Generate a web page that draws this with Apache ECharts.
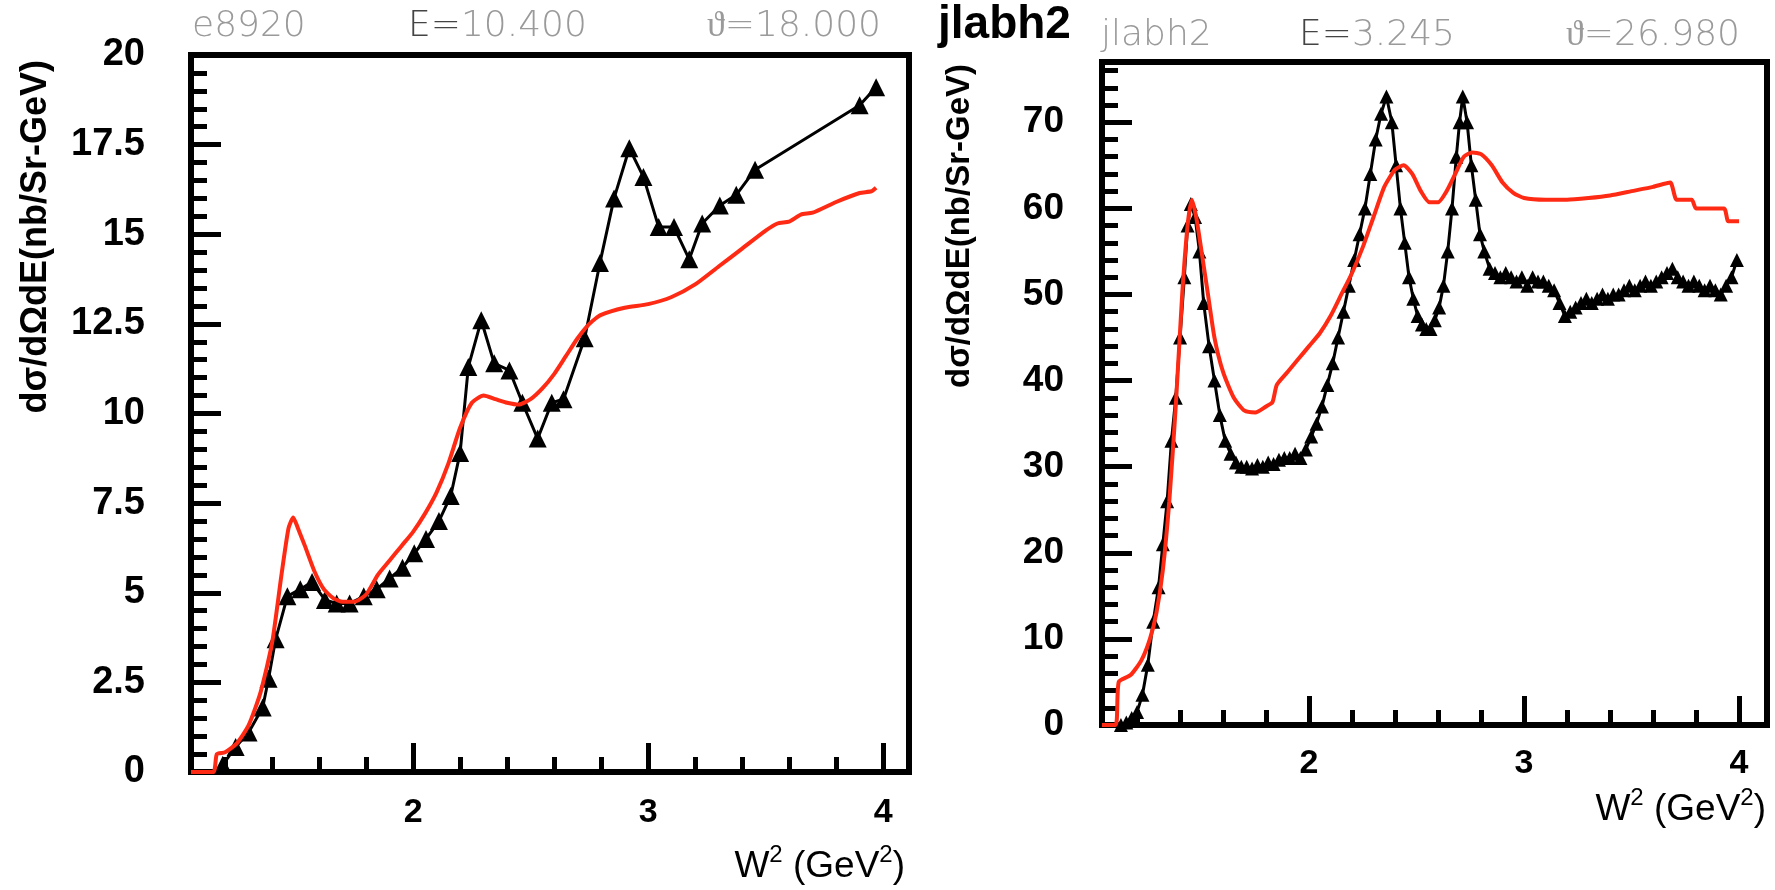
<!DOCTYPE html>
<html>
<head>
<meta charset="utf-8">
<script src="https://cdn.jsdelivr.net/npm/echarts@6/dist/echarts.min.js"></script>
<style>
  html, body { margin: 0; padding: 0; background: #fff; }
  #chart { width: 1775px; height: 890px; }
</style>
</head>
<body>
<div id="chart"></div>
<script>
// e8920, E=10.400, theta=18.000 : data (triangles) and model (red)
const e8920W2 = [1.19, 1.245, 1.30, 1.36, 1.385, 1.415, 1.465, 1.52, 1.57, 1.625, 1.675, 1.73, 1.79, 1.845,
  1.90, 1.955, 2.005, 2.055, 2.11, 2.16, 2.20, 2.235, 2.29, 2.345, 2.41, 2.465, 2.53, 2.59, 2.64, 2.73,
  2.795, 2.855, 2.92, 2.98, 3.045, 3.11, 3.175, 3.23, 3.305, 3.375, 3.455, 3.9, 3.97];
const e8920Xs = [0.2, 0.7, 1.1, 1.8, 2.6, 3.7, 4.9, 5.1, 5.3, 4.8, 4.7, 4.7, 4.9, 5.1,
  5.4, 5.7, 6.1, 6.5, 7.0, 7.7, 8.9, 11.3, 12.6, 11.4, 11.2, 10.3, 9.3, 10.3, 10.4, 12.1,
  14.2, 16.0, 17.4, 16.6, 15.2, 15.2, 14.3, 15.3, 15.8, 16.1, 16.8, 18.6, 19.1];
const e8920ModelW2 = [1.055, 1.15, 1.165, 1.2, 1.25, 1.3, 1.35, 1.4, 1.44, 1.47, 1.49, 1.51, 1.54, 1.58,
  1.62, 1.66, 1.70, 1.75, 1.80, 1.85, 1.90, 1.95, 2.0, 2.05, 2.10, 2.15, 2.20, 2.25, 2.30, 2.35, 2.40,
  2.45, 2.50, 2.55, 2.60, 2.65, 2.70, 2.75, 2.80, 2.90, 3.00, 3.10, 3.20, 3.30, 3.40, 3.50, 3.55, 3.60,
  3.65, 3.70, 3.80, 3.90, 3.95, 3.97];
const e8920Model = [0, 0, 0.5, 0.55, 0.8, 1.3, 2.2, 3.6, 5.5, 6.8, 7.1, 6.8, 6.3, 5.6,
  5.1, 4.85, 4.75, 4.75, 4.95, 5.5, 5.9, 6.3, 6.7, 7.2, 7.8, 8.6, 9.6, 10.3, 10.5, 10.4, 10.3,
  10.25, 10.4, 10.7, 11.1, 11.6, 12.1, 12.5, 12.75, 12.95, 13.05, 13.25, 13.6, 14.1, 14.6, 15.1, 15.3, 15.35,
  15.55, 15.6, 15.9, 16.15, 16.2, 16.3];

// jlabh2, E=3.245, theta=26.980
const jlabW2 = [1.125, 1.15, 1.175, 1.20, 1.225, 1.25, 1.275, 1.30, 1.32, 1.34, 1.36, 1.38, 1.40, 1.42,
  1.435, 1.45, 1.47, 1.49, 1.51, 1.535, 1.56, 1.585, 1.61, 1.635, 1.66, 1.685, 1.71, 1.735, 1.76, 1.785,
  1.81, 1.835, 1.86, 1.885, 1.91, 1.935, 1.96, 1.985, 2.01, 2.035, 2.06, 2.085, 2.11, 2.135, 2.16, 2.185,
  2.21, 2.235, 2.26, 2.285, 2.31, 2.335, 2.36, 2.385, 2.405, 2.425, 2.445, 2.465, 2.485, 2.505, 2.525, 2.545,
  2.565, 2.585, 2.605, 2.625, 2.645, 2.665, 2.685, 2.70, 2.715, 2.735, 2.755, 2.775, 2.795, 2.815, 2.84, 2.865,
  2.89, 2.915, 2.94, 2.965, 2.99, 3.015, 3.04, 3.065, 3.09, 3.115, 3.14, 3.165, 3.19, 3.215, 3.24, 3.265,
  3.29, 3.315, 3.34, 3.365, 3.39, 3.415, 3.44, 3.465, 3.49, 3.515, 3.54, 3.565, 3.59, 3.615, 3.64, 3.665,
  3.69, 3.715, 3.74, 3.765, 3.79, 3.815, 3.84, 3.865, 3.89, 3.915, 3.94, 3.965, 3.99];
const jlabXs = [0, 0.3, 0.8, 1.5, 3.5, 7, 12, 16, 21, 26, 33, 38, 45, 52,
  58, 60.5, 59, 55, 49, 44, 40, 36, 33, 31.5, 30.5, 30, 30, 29.8, 30.2, 30,
  30.5, 30.3, 30.8, 31, 31, 31.5, 31, 32, 33.5, 35, 37, 39.5, 42, 45, 48, 51,
  54, 57, 60, 64, 68, 71, 73, 70, 65, 60, 56, 52, 49.5, 47.5, 46.5, 46,
  46, 47, 48.5, 51, 55, 60, 66, 70, 73, 70, 65, 61, 57, 55, 53, 52.5,
  52, 52.5, 52, 51.5, 52, 51, 52, 51.5, 51.5, 51, 50.5, 49, 47.5, 48, 48.5, 49,
  49.5, 49, 49.5, 50, 49.5, 50, 50, 50.5, 51, 50.5, 51, 51.5, 51, 51.5, 52, 52.5,
  53, 52, 51.5, 51, 51.5, 51, 50.5, 51, 50.5, 50, 51, 52, 54];
const jlabModelW2 = [1.037, 1.10, 1.115, 1.17, 1.22, 1.26, 1.29, 1.32, 1.35, 1.38, 1.41, 1.435, 1.455, 1.475,
  1.50, 1.53, 1.56, 1.60, 1.65, 1.70, 1.75, 1.80, 1.83, 1.85, 1.90, 1.95, 2.00, 2.05, 2.10, 2.15, 2.20,
  2.25, 2.30, 2.35, 2.40, 2.44, 2.48, 2.52, 2.56, 2.60, 2.64, 2.68, 2.72, 2.76, 2.80, 2.85, 2.90, 2.95,
  3.00, 3.10, 3.20, 3.30, 3.40, 3.50, 3.60, 3.68, 3.71, 3.78, 3.80, 3.93, 3.95, 4.00];
const jlabModel = [0, 0, 5, 5.8, 7.5, 10, 13, 18, 26, 37, 50, 58, 61, 59,
  55, 50, 45, 41, 38, 36.5, 36.3, 37, 37.5, 39.5, 41, 42.5, 44, 45.5, 47.5, 50, 52.5,
  55.5, 59, 62.5, 64.5, 65, 64, 62, 60.7, 60.7, 62, 64, 66, 66.5, 66.3, 65, 63, 61.8,
  61.2, 61, 61, 61.2, 61.5, 62, 62.5, 63, 61, 61, 60, 60, 58.5, 58.5];

// tick positions and labels
const w2Major = [2, 3, 4];
const w2Minor = [1.2, 1.4, 1.6, 1.8, 2.2, 2.4, 2.6, 2.8, 3.2, 3.4, 3.6, 3.8];
const e8920YMajor = [0, 2.5, 5, 7.5, 10, 12.5, 15, 17.5, 20];
const e8920YMinor = [0.5, 1, 1.5, 2, 3, 3.5, 4, 4.5, 5.5, 6, 6.5, 7, 8, 8.5, 9, 9.5, 10.5, 11, 11.5, 12,
  13, 13.5, 14, 14.5, 15.5, 16, 16.5, 17, 18, 18.5, 19, 19.5];
const jlabYMajor = [0, 10, 20, 30, 40, 50, 60, 70];
const jlabYMinor = [2, 4, 6, 8, 12, 14, 16, 18, 22, 24, 26, 28, 32, 34, 36, 38, 42, 44, 46, 48,
  52, 54, 56, 58, 62, 64, 66, 68, 72, 74, 76];

const yTitle = "d\u03c3/d\u03a9dE(nb/Sr-GeV)";
const headers = [
  { run: "e8920", e: "10.400", th: "18.000" },
  { run: "jlabh2", e: "3.245", th: "26.980" }
];

const zip = (xs, ys) => xs.map((x, i) => [x, ys[i]]);

const chart = echarts.init(document.getElementById("chart"), null, { renderer: "canvas" });

function xAxes(grid, min, max, labelMargin) {
  const base = {
    type: "value", gridIndex: grid, min: min, max: max, position: "bottom",
    axisLine: { show: false }, splitLine: { show: false }
  };
  return [
    Object.assign({}, base, {
      axisTick: { show: true, inside: true, length: 29, customValues: w2Major, lineStyle: { color: "#000", width: 5 } },
      axisLabel: {
        show: true, customValues: w2Major, margin: labelMargin, color: "#000",
        fontFamily: "Liberation Sans", fontWeight: "bold", fontSize: 34
      }
    }),
    Object.assign({}, base, {
      axisTick: { show: true, inside: true, length: 15, customValues: w2Minor, lineStyle: { color: "#000", width: 5 } },
      axisLabel: { show: false }
    })
  ];
}

function yAxes(grid, max, major, minor, labelMargin, fontSize) {
  const base = {
    type: "value", gridIndex: grid, min: 0, max: max, position: "left",
    axisLine: { show: false }, splitLine: { show: false }
  };
  return [
    Object.assign({}, base, {
      axisTick: { show: true, inside: true, length: 30, customValues: major, lineStyle: { color: "#000", width: 5 } },
      axisLabel: {
        show: true, customValues: major, margin: labelMargin, color: "#000",
        fontFamily: "Liberation Sans", fontWeight: "bold", fontSize: fontSize
      }
    }),
    Object.assign({}, base, {
      axisTick: { show: true, inside: true, length: 16, customValues: minor, lineStyle: { color: "#000", width: 5 } },
      axisLabel: { show: false }
    })
  ];
}

const supRich = {
  m: { fontFamily: "Liberation Sans", fontSize: 37, color: "#000", lineHeight: 42, verticalAlign: "bottom" },
  s: { fontFamily: "Liberation Sans", fontSize: 24, color: "#000", lineHeight: 42, verticalAlign: "top" }
};
const headRich = {
  g: { fontFamily: "DejaVu Sans", fontWeight: 200, fontSize: 36, fill: "#9a9a9a" },
  d: { fontFamily: "DejaVu Sans", fontWeight: 200, fontSize: 36, fill: "#444" }
};

function headerTexts(h, left, mid, right, top) {
  return [
    { type: "text", x: left, y: top, style: { text: h.run, font: "200 36px 'DejaVu Sans'", fill: "#9a9a9a", verticalAlign: "top" } },
    { type: "text", x: mid, y: top, style: { text: "{d|E=}{g|" + h.e + "}", rich: headRich, verticalAlign: "top" } },
    { type: "text", x: right, y: top, style: { text: "{g|\u03d1=" + h.th + "}", rich: headRich, align: "right", verticalAlign: "top" } }
  ];
}

const option = {
  animation: false,
  backgroundColor: "#fff",
  grid: [
    { left: 191, top: 55, width: 718, height: 717, show: true, borderColor: "#000", borderWidth: 6, backgroundColor: "transparent" },
    { left: 1102, top: 62, width: 665, height: 663, show: true, borderColor: "#000", borderWidth: 6, backgroundColor: "transparent" }
  ],
  xAxis: xAxes(0, 1.055, 4.11, 24).concat(xAxes(1, 1.037, 4.13, 22)),
  yAxis: yAxes(0, 20, e8920YMajor, e8920YMinor, 46, 38).concat(yAxes(1, 77, jlabYMajor, jlabYMinor, 38, 37)),
  graphic: [
    { type: "text", x: 18, y: 60, rotation: Math.PI / 2,
      style: { text: yTitle, font: "bold 36px 'Liberation Sans'", fill: "#000", align: "right", verticalAlign: "top" } },
    { type: "text", x: 943, y: 64, rotation: Math.PI / 2,
      style: { text: yTitle, font: "bold 33px 'Liberation Sans'", fill: "#000", align: "right", verticalAlign: "top" } },
    { type: "text", x: 905, y: 843,
      style: { text: "{m|W}{s|2}{m| (GeV}{s|2}{m|)}", rich: supRich, align: "right", verticalAlign: "top" } },
    { type: "text", x: 1766, y: 786,
      style: { text: "{m|W}{s|2}{m| (GeV}{s|2}{m|)}", rich: supRich, align: "right", verticalAlign: "top" } },
    { type: "text", x: 938, y: 2,
      style: { text: "jlabh2", font: "bold 46px 'Liberation Sans'", fill: "#000", verticalAlign: "top" } }
  ].concat(headerTexts(headers[0], 192, 408, 881, 9), headerTexts(headers[1], 1101, 1299, 1740, 18)),
  series: [
    {
      name: "e8920 data", type: "line", xAxisIndex: 0, yAxisIndex: 0,
      data: zip(e8920W2, e8920Xs),
      symbol: "triangle", symbolSize: 18, showSymbol: true,
      itemStyle: { color: "#000" }, lineStyle: { color: "#000", width: 3 }, z: 3
    },
    {
      name: "e8920 model", type: "line", xAxisIndex: 0, yAxisIndex: 0,
      data: zip(e8920ModelW2, e8920Model),
      showSymbol: false, smooth: 0.2, lineStyle: { color: "#ff2a14", width: 4 }, z: 4
    },
    {
      name: "jlabh2 data", type: "line", xAxisIndex: 2, yAxisIndex: 2,
      data: zip(jlabW2, jlabXs),
      symbol: "triangle", symbolSize: 14, showSymbol: true,
      itemStyle: { color: "#000" }, lineStyle: { color: "#000", width: 3 }, z: 3
    },
    {
      name: "jlabh2 model", type: "line", xAxisIndex: 2, yAxisIndex: 2,
      data: zip(jlabModelW2, jlabModel),
      showSymbol: false, smooth: 0.2, lineStyle: { color: "#ff2a14", width: 4 }, z: 4
    }
  ]
};

chart.setOption(option);
window.addEventListener("resize", () => chart.resize());
</script>
</body>
</html>
